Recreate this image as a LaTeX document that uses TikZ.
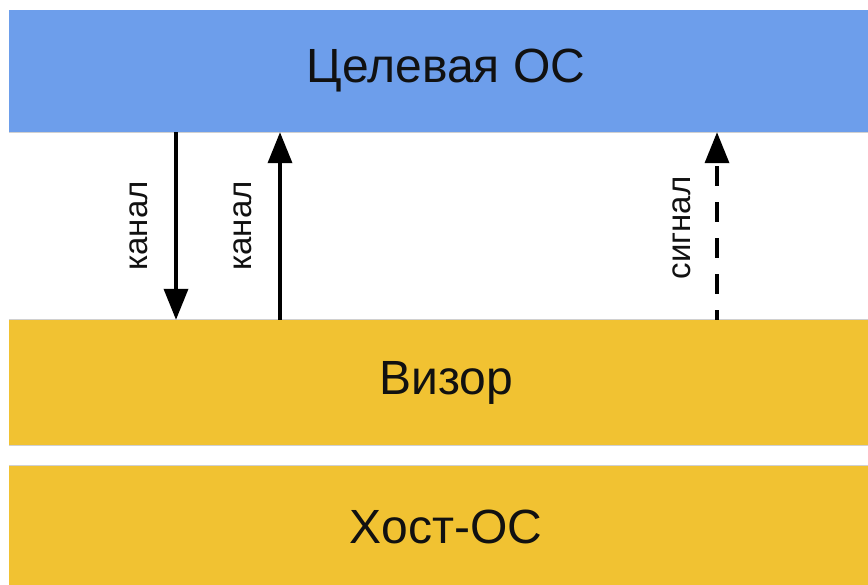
\documentclass[tikz,border=0pt]{standalone}
\usepackage{fontspec}
\setmainfont{Liberation Sans}
\usetikzlibrary{arrows.meta}
\definecolor{guestblue}{HTML}{6D9EEB}
\definecolor{layeryellow}{HTML}{F1C232}
\definecolor{edgegray}{HTML}{D0D0D0}
\definecolor{inkblack}{HTML}{111111}
\begin{document}
\begin{tikzpicture}[x=1bp,y=-1bp,
  layer/.style={inner sep=0pt, minimum width=874bp, text=inkblack,
    font=\fontsize{48bp}{56bp}\selectfont},
  edge/.style={draw=edgegray, line width=1.2bp},
  chan/.style={draw=black, line width=3.6bp, -{Triangle[length=31bp,width=24bp]}},
  lbl/.style={inner sep=0pt, rotate=90, text=inkblack,
    font=\fontsize{33bp}{40bp}\selectfont}]
\useasboundingbox (0,0) rectangle (868,585);
\clip (0,0) rectangle (868,585);

% layers
\node[layer, fill=guestblue, minimum height=122bp] (guest) at (446,71) {Целевая ОС};
\node[layer, fill=layeryellow, minimum height=125bp] (visor) at (446,382.5) {Визор};
\node[layer, fill=layeryellow, minimum height=122bp] (host) at (446,527) {Хост-ОС};

% thin edges between the layers
\draw[edge] (guest.south west) -- (guest.south east);
\draw[edge] (visor.north west) -- (visor.north east);
\draw[edge] (visor.south west) -- (visor.south east);
\draw[edge] (host.north west) -- (host.north east);

% columns of the connectors
\coordinate (xa) at (176,0);
\coordinate (xb) at (280,0);
\coordinate (xc) at (717,0);

\draw[chan] (guest.south -| xa) -- (visor.north -| xa);
\draw[chan] (visor.north -| xb) -- (guest.south -| xb);
\draw[chan, dash pattern=on 20bp off 16bp, dash phase=10bp] (visor.north -| xc) -- (guest.south -| xc);

% labels
\node[lbl] (la) at (139,226) {канал};
\node[lbl] (lb) at (243,226) {канал};
\node[lbl] (lc) at (682,228) {сигнал};
\end{tikzpicture}
\end{document}
